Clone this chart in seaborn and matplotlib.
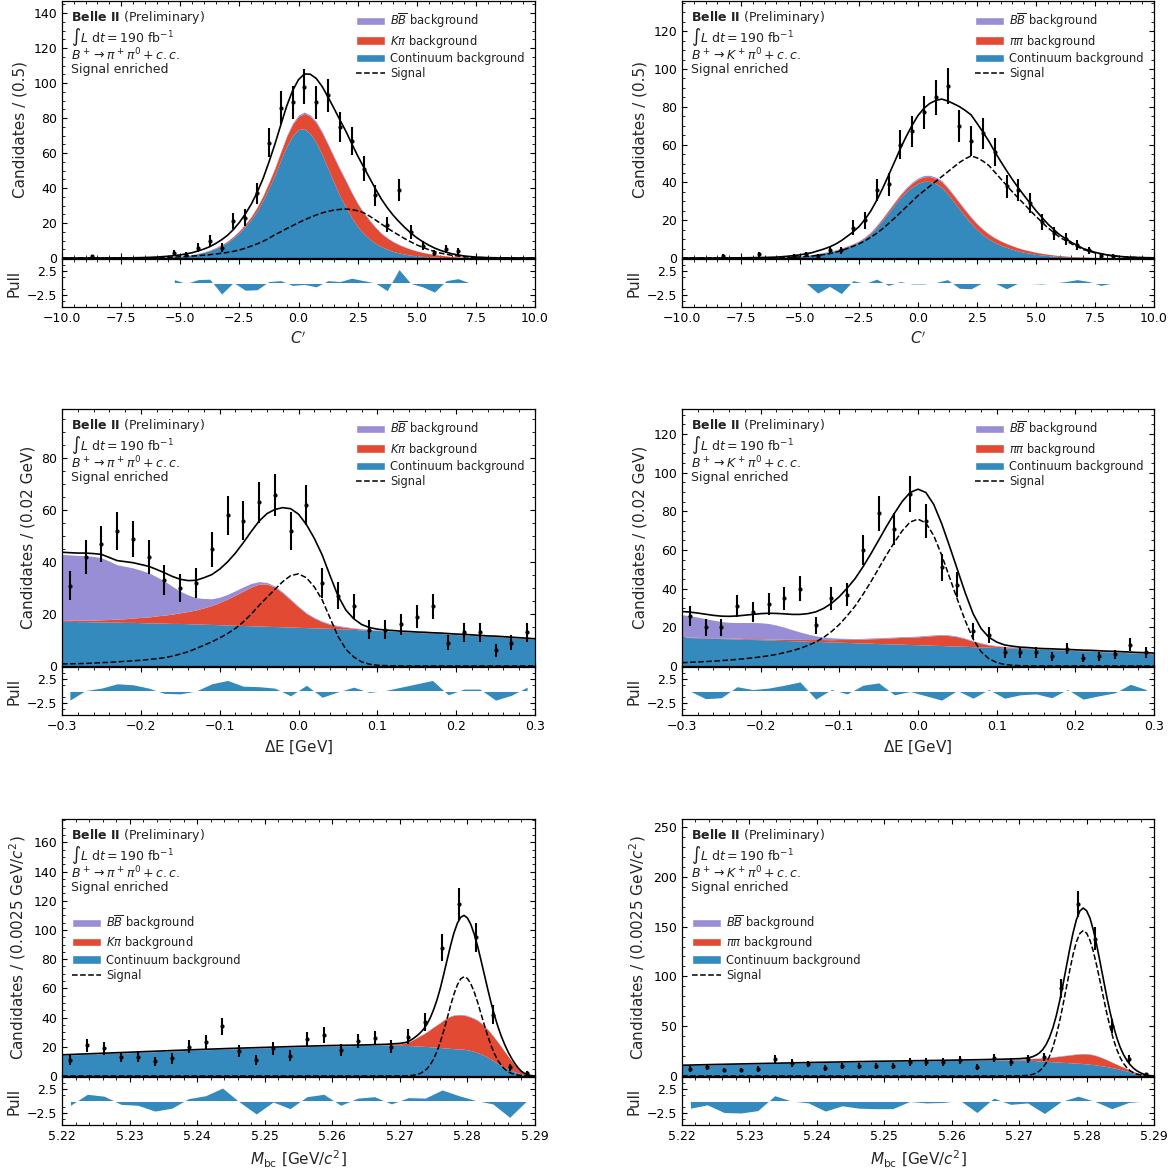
import numpy as np
import pandas as pd
import matplotlib
matplotlib.use("Agg")
import matplotlib.pyplot as plt
import seaborn as sns
from matplotlib.patches import Patch
from matplotlib.lines import Line2D
from matplotlib.ticker import MultipleLocator, AutoMinorLocator

# --- colours (stacked fit components) ---
BLUE = "#348ABD"    # continuum
RED = "#E24A33"     # peaking cross-feed
PURPLE = "#988ED5"  # BBbar

# ---------------------------------------------------------------
# fit-curve sampling grids
# ---------------------------------------------------------------
cprime_grid = np.concatenate([np.arange(-10, -4.4, 0.5), np.arange(-4, 6.01, 0.25),
                              np.arange(6.5, 10.01, 0.5)])
de_grid = np.round(np.arange(-0.30, 0.3001, 0.01), 2)
mbc_grid = np.concatenate([
    [5.220, 5.225, 5.230, 5.235, 5.240, 5.245, 5.250, 5.255, 5.260, 5.265, 5.268, 5.270],
    np.round(np.arange(5.2710, 5.29001, 0.0005), 4)])

# ---------------------------------------------------------------
# C' , B+ -> pi+ pi0
# ---------------------------------------------------------------
cp_pi_x = [-8.75, -5.25, -4.75, -4.25, -3.75, -3.25, -2.75, -2.25, -1.75, -1.25, -0.75, -0.25,
           0.25, 0.75, 1.25, 1.75, 2.25, 2.75, 3.25, 3.75, 4.25, 4.75, 5.25, 5.75, 6.25, 6.75]
cp_pi_n = [1, 3, 2, 6, 10, 6, 21, 23, 37, 66, 86, 89, 98, 89, 93, 75, 67, 51, 36, 19, 39, 15, 7, 3, 5, 4]
cp_pi_pull_x = [-5.25, -4.75, -4.25, -3.75, -3.25, -2.75, -2.25, -1.75, -1.25, -0.75, -0.25, 0.25, 0.75,
                1.25, 1.75, 2.25, 2.75, 3.25, 3.75, 4.25, 4.75, 5.25, 5.75, 6.25, 6.75, 7.25]
cp_pi_pull = [0.7, -0.1, 0.7, 0.8, -2.3, 0.1, -1.5, -1.4, 0.3, 0.5, -0.5, -0.3, -0.8,
              0.5, 0.3, 1.0, 0.5, 0.0, -1.6, 2.8, -0.1, -0.8, -1.9, 0.5, 0.9, 0.0]
cp_pi_cont = ([0, 0, 0, 0, 0, 0.02, 0.05, 0.15, 0.3, 0.6, 1.0, 1.8]
              + [3.2, 4.2, 5.5, 7.1, 9.0, 11.5, 14.5, 18.0, 22, 27, 33, 40, 47.5, 56, 64, 70, 73.5,
                 74, 71, 66, 59, 51, 43, 35.5, 29, 23, 18, 14, 11, 8.5, 6.5, 5.0, 3.8, 2.9, 2.2, 1.6,
                 1.2, 0.9, 0.65, 0.5, 0.35]
              + [0.15, 0.05, 0.02, 0, 0, 0, 0, 0])
cp_pi_peak = ([0, 0, 0, 0, 0, 0, 0, 0, 0.02, 0.03, 0.05, 0.1]
              + [0.2, 0.27, 0.35, 0.47, 0.6, 0.8, 1.0, 1.3, 1.6, 2.0, 2.5, 3.1, 3.7, 4.5, 5.5, 6.5,
                 7.5, 8.7, 10, 11.3, 12.5, 13.6, 14.5, 15.0, 15, 14.2, 13, 11.8, 10.5, 9.0, 7.5,
                 6.4, 5.5, 4.7, 4.0, 3.4, 2.8, 2.3, 1.9, 1.5, 1.2]
              + [0.7, 0.4, 0.2, 0.1, 0.05, 0, 0, 0])
cp_pi_bb = ([0] * 12
            + [0.1, 0.12, 0.15, 0.17, 0.2, 0.22, 0.25, 0.27, 0.3, 0.35, 0.4, 0.45, 0.5, 0.55, 0.6,
               0.7, 0.8, 0.8, 0.8, 0.8, 0.8, 0.75, 0.7, 0.65, 0.6, 0.55, 0.5, 0.45, 0.4, 0.35, 0.3,
               0.25, 0.2, 0.17, 0.15, 0.12, 0.1, 0.07, 0.05, 0.02, 0]
            + [0] * 8)
cp_pi_sig = ([0, 0, 0, 0, 0.02, 0.04, 0.07, 0.12, 0.2, 0.4, 0.7, 1.1]
             + [1.6, 1.9, 2.3, 2.7, 3.2, 3.8, 4.6, 5.6, 6.8, 8.1, 9.5, 11.3, 13.3, 15.0, 16.8, 18.5,
                20.2, 21.8, 23.3, 24.6, 25.8, 26.7, 27.4, 27.8, 28.0, 27.7, 27.0, 25.9, 24.0, 21.8,
                19.5, 17.2, 15.0, 13.0, 11.0, 9.2, 7.5, 6.1, 4.8, 3.7, 2.8]
             + [1.5, 0.7, 0.3, 0.12, 0.05, 0.02, 0, 0])

# ---------------------------------------------------------------
# C' , B+ -> K+ pi0
# ---------------------------------------------------------------
cp_k_x = [-8.25, -6.75, -5.25, -4.75, -4.25, -3.75, -3.25, -2.75, -2.25, -1.75, -1.25, -0.75, -0.25, 0.25,
          0.75, 1.25, 1.75, 2.25, 2.75, 3.25, 3.75, 4.25, 4.75, 5.25, 5.75, 6.25, 6.75, 7.25, 7.75, 8.25]
cp_k_n = [1, 2, 1, 2, 1, 4, 4, 16, 20, 36, 39, 60, 67, 77, 85, 91, 70, 62, 66, 56, 38, 36, 29, 19, 13,
          10, 7, 4, 1, 1]
cp_k_pull_x = cp_k_x[2:]
cp_k_pull = [0, 0, -2.1, -0.7, -2.2, 0.5, -0.1, 0.8, -0.5, 0.3, -0.2, -0.2, 0.1, 0.7, -1.1, -1.2, 0.1,
             0, -1.2, 0, -0.1, -0.2, 0, 0.3, 0.7, 0.3, -0.5, 0]
cp_k_cont = ([0, 0, 0, 0, 0.02, 0.05, 0.1, 0.2, 0.3, 0.6, 1.0, 1.7]
             + [2.7, 3.3, 4.0, 4.9, 6.0, 7.1, 8.5, 10.5, 13, 16.3, 20, 24, 28, 31.8, 35, 37.6, 39.5,
                40.6, 40.5, 39.4, 37.5, 34, 30, 26, 22, 18.3, 15, 12.3, 10, 8.2, 6.8, 5.6, 4.6, 3.7,
                3.0, 2.5, 2.0, 1.6, 1.3, 1.0, 0.8]
             + [0.5, 0.3, 0.2, 0.1, 0.05, 0, 0, 0])
cp_k_peak = ([0] * 8 + [0.02, 0.04, 0.07, 0.1]
             + [0.15, 0.17, 0.2, 0.25, 0.3, 0.35, 0.4, 0.5, 0.6, 0.75, 0.9, 1.05, 1.2, 1.45, 1.7,
                1.95, 2.2, 2.4, 2.6, 2.8, 3.0, 3.1, 3.2, 3.2, 3.2, 3.1, 3.0, 2.8, 2.6, 2.4, 2.2, 2.0,
                1.8, 1.6, 1.4, 1.2, 1.0, 0.85, 0.7, 0.6, 0.5]
             + [0.3, 0.2, 0.1, 0.05, 0.02, 0, 0, 0])
cp_k_bb = ([0] * 12
           + [0.05, 0.07, 0.1, 0.12, 0.15, 0.17, 0.2, 0.25, 0.3, 0.35, 0.4, 0.45, 0.5, 0.55, 0.6,
              0.65, 0.7, 0.7, 0.7, 0.65, 0.6, 0.55, 0.5, 0.45, 0.4, 0.35, 0.3, 0.27, 0.25, 0.22,
              0.2, 0.17, 0.15, 0.12, 0.1, 0.07, 0.05, 0.04, 0.02, 0.01, 0]
           + [0] * 8)
cp_k_sig = ([0, 0, 0, 0, 0.02, 0.04, 0.07, 0.1, 0.15, 0.3, 0.6, 1.0]
            + [1.8, 2.3, 3.0, 3.9, 5.0, 6.2, 7.5, 9.1, 11, 13.1, 15.5, 18.2, 21, 24, 27, 30, 33, 35.5,
               38, 40.5, 43, 45.5, 48, 50.5, 52.5, 54, 53, 51.3, 49, 45.5, 42, 38.5, 35, 31.7, 28.5,
               25.2, 22, 19, 16, 13.5, 11]
            + [7.5, 4.5, 2.7, 1.5, 0.8, 0.4, 0.2, 0.1])

# ---------------------------------------------------------------
# Delta E , B+ -> pi+ pi0
# ---------------------------------------------------------------
de_edges = np.linspace(-0.3, 0.3, 31)
de_pi_n = [31, 42, 47, 52, 49, 42, 33, 30, 32, 45, 58, 56, 63, 66, 52, 62, 32, 27, 23, 14, 14, 16, 19,
           23, 9, 13, 13, 6, 9, 13]
de_pi_pull = [-1.9, 0.1, 0.6, 1.5, 1.3, 0.6, -0.5, -0.6, 0.0, 1.5, 2.2, 1.0, 0.9, 0.6, -1.0, 1.2, -1.3,
              -0.2, 0.8, -0.3, 0.1, 0.8, 1.5, 2.2, -0.8, 0.4, 0.4, -1.9, -0.9, 0.8]
de_pi_cont = [17.2, 17.2, 17.1, 17.1, 17.0, 17.0, 16.9, 16.9, 16.8, 16.8, 16.7, 16.6, 16.6, 16.5, 16.4,
              16.4, 16.3, 16.2, 16.1, 16.0, 15.9, 15.8, 15.7, 15.6, 15.5, 15.4, 15.3, 15.2, 15.1, 15.0,
              14.9, 14.8, 14.7, 14.6, 14.5, 14.3, 14.2, 14.1, 13.9, 13.8, 13.7, 13.5, 13.4, 13.2, 13.1,
              12.9, 12.8, 12.6, 12.5, 12.3, 12.1, 12.0, 11.8, 11.6, 11.4, 11.3, 11.1, 10.9, 10.7, 10.5, 10.3]
de_pi_peak = [0.3, 0.4, 0.5, 0.6, 0.7, 0.8, 1.0, 1.2, 1.4, 1.7, 2.0, 2.3, 2.7, 3.1, 3.6, 4.1, 4.7, 5.4,
              6.3, 7.3, 8.6, 10.0, 11.6, 13.3, 14.9, 16.2, 16.3, 15.2, 13.0, 10.4, 7.8, 5.4, 3.7, 2.4,
              1.5, 1.0, 0.7, 0.4, 0.3, 0.2] + [0.1] * 21
de_pi_bb = [25.5, 25.2, 25.0, 24.8, 24.5, 23.9, 22.5, 20.9, 20.2, 19.3, 18.2, 17.0, 15.1, 13.1, 10.7,
            8.3, 6.4, 4.7, 3.6, 2.6, 2.0, 1.8, 1.7, 1.6, 1.4, 0.9, 0.6, 0.4, 0.4, 0.4, 0.3, 0.3, 0.3,
            0.3, 0.3, 0.3, 0.2, 0.2, 0.2, 0.1] + [0.1] * 21
de_pi_sig = [0.8, 0.85, 0.9, 1.0, 1.1, 1.3, 1.4, 1.6, 1.8, 2.0, 2.2, 2.5, 2.8, 3.2, 3.8, 4.6, 5.5, 6.7,
             8.0, 9.3, 10.8, 12.5, 14.5, 17.0, 20.0, 23.3, 26.5, 29.5, 32.5, 34.8, 35.5, 34.0, 30.5,
             25.5, 18.5, 11.5, 6.5, 3.5, 1.6, 0.7, 0.3, 0.15, 0.07, 0.03] + [0] * 17

# ---------------------------------------------------------------
# Delta E , B+ -> K+ pi0
# ---------------------------------------------------------------
de_k_n = [26, 20, 20, 31, 28, 32, 35, 40, 21, 35, 37, 60, 79, 71, 89, 75, 51, 42, 18, 16, 7, 7, 7, 5, 9,
          4, 5, 6, 11, 7]
de_k_pull = [0.0, -1.6, -1.4, 0.9, 0.3, 0.6, 1.2, 1.9, -1.7, 0.3, -0.6, 1.2, 1.7, -0.8, -0.1, -1.0,
             -1.9, 0.1, -1.5, 0.3, -1.5, -0.8, -0.6, -1.4, 0.3, -1.7, -1.0, -0.4, 1.4, 0.3]
de_k_cont = [14.8, 14.7, 14.6, 14.4, 14.3, 14.2, 14.1, 14.0, 13.8, 13.7, 13.6, 13.5, 13.3, 13.2, 13.1,
             13.0, 12.8, 12.7, 12.6, 12.4, 12.3, 12.2, 12.0, 11.9, 11.8, 11.6, 11.5, 11.4, 11.3, 11.1,
             11.0, 10.9, 10.7, 10.6, 10.4, 10.3, 10.2, 10.0, 9.9, 9.7, 9.6, 9.4, 9.3, 9.1, 9.0, 8.8,
             8.6, 8.5, 8.3, 8.2, 8.0, 7.8, 7.7, 7.5, 7.3, 7.2, 7.0, 6.8, 6.6, 6.5, 6.3]
de_k_peak = [0.2, 0.2, 0.2, 0.3, 0.3, 0.3, 0.3, 0.4, 0.4, 0.4, 0.5, 0.5, 0.6, 0.6, 0.7, 0.8, 0.9, 1.0,
             1.1, 1.2, 1.4, 1.6, 1.8, 2.0, 2.3, 2.6, 2.9, 3.2, 3.5, 3.8, 4.1, 4.5, 5.0, 5.3, 5.3, 4.8,
             3.9, 2.8, 1.8, 1.1, 0.7, 0.5, 0.4, 0.3, 0.3] + [0.2] * 16
de_k_bb = [11.5, 11.1, 10.5, 9.8, 9.1, 8.5, 8.2, 8.1, 8.3, 8.4, 8.3, 8.0, 7.3, 6.3, 5.0, 3.8, 2.8, 1.9,
           1.3, 1.0, 0.7, 0.5] + [0.4] * 14 + [0.3] * 5 + [0.2] * 20
de_k_sig = [1.7, 1.9, 2.1, 2.3, 2.5, 2.8, 3.1, 3.4, 3.8, 4.2, 4.7, 5.3, 6.0, 6.9, 7.9, 9.1, 10.6, 12.4,
            14.8, 17.8, 21.5, 26.0, 31.0, 37.0, 43.5, 50.5, 57.5, 64.0, 70.0, 74.5, 76.0, 74.0, 67.5,
            57.5, 46.0, 34.5, 23.5, 14.0, 7.5, 3.8, 1.8, 0.8, 0.35, 0.15, 0.05] + [0] * 16

# ---------------------------------------------------------------
# Mbc , B+ -> pi+ pi0
# ---------------------------------------------------------------
mbc_edges = np.linspace(5.22, 5.29, 29)
mbc_pi_n = [11, 21, 19, 13, 13, 10, 12, 20, 23, 34, 17, 11, 19, 14, 25, 28, 18, 24, 26, 20, 27, 37,
            88, 118, 95, 42, 6, 2]
mbc_pi_pull = [-0.9, 1.4, 1.0, -0.7, -0.9, -2.1, -1.5, 0.5, 1.1, 2.7, -0.2, -2.7, -0.2, -1.6, 0.9, 1.4,
               -0.9, 0.6, 0.9, -0.6, 0.7, 0.6, 2.3, 1.1, 0.1, -0.6, -3.4, 0.0]
mbc_pi_cont = [14.2, 15.1, 16.0, 16.9, 17.8, 18.6, 19.3, 20.0, 20.6, 21.0, 21.1, 21.0,
               20.9, 20.8, 20.7, 20.6, 20.5, 20.3, 20.2, 20.0, 19.9, 19.7, 19.5, 19.3, 19.1, 18.9,
               18.7, 18.5, 18.4, 18.3, 17.9, 17.4, 16.8, 16.0, 15.1, 14.0, 12.8, 11.4, 9.9, 8.5, 7.2,
               6.0, 4.8, 3.8, 2.9, 2.1, 1.4, 0.8, 0.4, 0.1, 0.0]
mbc_pi_peak = [0] * 10 + [0.3, 1.0,
                          1.8, 2.9, 4.2, 5.6, 7.0, 8.4, 10.0, 11.8, 13.6, 15.3, 17.0, 19.0, 20.6, 21.9,
                          22.8, 23.3, 23.4, 23.3, 23.1, 22.8, 22.4, 22.0, 21.2, 20.2, 19.0, 17.7, 16.3,
                          14.6, 12.8, 10.8, 8.8, 6.7, 4.6, 2.8, 1.5, 0.7, 0.3, 0.1, 0]
mbc_pi_bb = [0.3] * 22 + [0.4] * 12 + [0.3, 0.3, 0.3, 0.2, 0.2, 0.2, 0.1, 0.1, 0.1, 0.1, 0.05, 0.05,
                                       0, 0, 0, 0, 0]
mbc_pi_sig = [0] * 10 + [0.02, 0.05,
                         0.13, 0.26, 0.52, 0.97, 1.73, 3.0, 4.9, 7.7, 11.7, 16.9, 23.4, 31.1, 39.5, 48.1,
                         56.0, 62.3, 66.5, 68.0, 66.8, 63.2, 57.6, 50.6, 42.8, 35.0, 27.5, 20.8, 15.2,
                         10.7, 7.3, 4.8, 3.0, 1.8, 1.1, 0.6, 0.3, 0.15, 0.07, 0.03, 0]

# ---------------------------------------------------------------
# Mbc , B+ -> K+ pi0
# ---------------------------------------------------------------
mbc_k_n = [7, 9, 6, 6, 7, 17, 13, 12, 8, 10, 10, 10, 10, 14, 14, 14, 16, 9, 18, 14, 17, 19, 88, 173,
           138, 50, 17, 2]
mbc_k_pull = [-1.5, -0.8, -2.4, -2.5, -2.0, 1.1, 0.0, -0.4, -2.1, -1.0, -1.5, -1.6, -1.6, -0.1, -0.4,
              -0.3, 0.1, -2.4, 0.6, -0.7, -0.4, -2.6, -0.1, 1.0, -0.1, -1.6, -0.3, 0.0]
mbc_k_cont = [10.5, 11.3, 12.0, 12.7, 13.4, 14.0, 14.6, 15.1, 15.6, 16.0, 16.1, 16.1,
              16.0, 15.8, 15.6, 15.4, 15.1, 14.9, 14.7, 14.5, 14.3, 14.1, 13.9, 13.7, 13.5, 13.3,
              13.1, 12.9, 12.7, 12.4, 12.1, 11.8, 11.4, 11.0, 10.5, 10.0, 9.4, 8.8, 8.1, 7.4, 6.6,
              5.8, 4.9, 4.0, 3.1, 2.3, 1.6, 1.0, 0.5, 0.2, 0]
mbc_k_peak = [0] * 9 + [0.2, 0.5, 0.8,
                        1.2, 1.5, 1.9, 2.3, 2.7, 3.1, 3.6, 4.1, 4.7, 5.3, 5.9, 6.5, 7.1, 7.7, 8.3,
                        8.9, 9.4, 9.8, 10.0, 10.0, 9.7, 9.2, 8.5, 7.7, 6.8, 5.9, 5.0, 4.2, 3.5, 2.9,
                        2.3, 1.8, 1.3, 0.9, 0.6, 0.3, 0.1, 0, 0]
mbc_k_bb = [0.3] * 22 + [0.4] * 12 + [0.3, 0.3, 0.3, 0.2, 0.2, 0.2, 0.1, 0.1, 0.1, 0.1, 0.05, 0.05,
                                      0, 0, 0, 0, 0]
mbc_k_sig = [0] * 10 + [0.05, 0.2,
                        0.45, 0.87, 1.6, 2.9, 5.0, 8.2, 13.0, 19.8, 28.9, 40.6, 54.8, 71.1, 88.6,
                        106.0, 122.0, 134.8, 143.1, 146.0, 143.5, 136.4, 125.1, 111.0, 95.1, 78.9,
                        62.9, 48.8, 36.4, 26.3, 18.3, 12.4, 8.1, 5.1, 3.1, 1.8, 1.0, 0.5, 0.2, 0.08, 0]

de_centres = 0.5 * (de_edges[1:] + de_edges[:-1])
mbc_centres = 0.5 * (mbc_edges[1:] + mbc_edges[:-1])

# ---------------------------------------------------------------
# style
# ---------------------------------------------------------------
sns.set_style("ticks", {"xtick.direction": "in", "ytick.direction": "in"})
plt.rcParams.update({
    "font.family": ["DejaVu Sans"],
    "xtick.top": True, "ytick.right": True,
    "xtick.minor.visible": True, "ytick.minor.visible": True,
    "xtick.major.size": 3.5, "ytick.major.size": 3.5,
    "xtick.minor.size": 2.0, "ytick.minor.size": 2.0,
    "xtick.labelsize": 9, "ytick.labelsize": 9,
    "axes.labelsize": 11, "axes.edgecolor": "black", "axes.linewidth": 0.9,
    "xtick.color": "black", "ytick.color": "black", "text.color": "#222222",
})

W, H = 1174, 1168
fig = plt.figure(figsize=(W / 100, H / 100), dpi=100)


def rect(x0, top, w, h):
    return [x0 / W, 1 - (top + h) / H, w / W, h / H]


def panel(col, row, grid, cont, peak, bb, sig, xc, n, px, pull, xlim, ylim, ystep, xstep,
          xlabel, ylabel, decay, peak_name, legend_loc):
    x0, w = [(62, 473), (682, 472)][col]
    top = [1, 409, 819][row]
    ax = fig.add_axes(rect(x0, top, w, 257))
    axp = fig.add_axes(rect(x0, top + 258, w, 48), sharex=ax)

    cont = np.asarray(cont, float)
    peak = np.asarray(peak, float)
    bb = np.asarray(bb, float)
    sig = np.asarray(sig, float)
    l1 = cont + peak
    l2 = l1 + bb
    ax.fill_between(grid, 0, cont, color=BLUE, lw=0)
    ax.fill_between(grid, cont, l1, color=RED, lw=0)
    ax.fill_between(grid, l1, l2, color=PURPLE, lw=0)

    curves = pd.DataFrame({"x": grid, "total": l2 + sig, "signal": sig})
    sns.lineplot(data=curves, x="x", y="signal", ax=ax, color="k", lw=1.1, ls="--",
                 estimator=None, sort=False)
    sns.lineplot(data=curves, x="x", y="total", ax=ax, color="k", lw=1.2,
                 estimator=None, sort=False)

    n = np.asarray(n, float)
    ax.errorbar(xc, n, yerr=np.sqrt(n), fmt="o", ms=2, color="k", elinewidth=1.5,
                capsize=0, zorder=5)

    ax.set_xlim(*xlim)
    ax.set_ylim(*ylim)
    ax.yaxis.set_major_locator(MultipleLocator(ystep))
    ax.xaxis.set_major_locator(MultipleLocator(xstep))
    ax.xaxis.set_minor_locator(AutoMinorLocator(5))
    ax.tick_params(labelbottom=False)
    ax.set_xlabel("")
    ax.set_ylabel(ylabel)

    txt = ["$\\bf{Belle\\ II}$ (Preliminary)",
           "$\\int L\\ \\mathrm{d}t = 190\\ \\mathrm{fb}^{-1}$",
           decay, "Signal enriched"]
    for t, d in zip(txt, [17, 36, 54, 69]):
        ax.text(0.02, 1 - d / 257, t, transform=ax.transAxes, va="center", ha="left",
                fontsize=9, color="#222222")

    handles = [Patch(facecolor=PURPLE, label="$B\\overline{B}$ background"),
               Patch(facecolor=RED, label=peak_name),
               Patch(facecolor=BLUE, label="Continuum background"),
               Line2D([], [], color="k", ls="--", lw=1.1, label="Signal")]
    ax.legend(handles=handles, loc=legend_loc, frameon=False, fontsize=8.3,
              handlelength=2.5, handleheight=0.75, handletextpad=0.45, labelspacing=0.2)

    axp.fill_between(px, 0, pull, color=BLUE, lw=0)
    axp.axhline(0, color="white", lw=0.7)
    axp.set_ylim(-5, 5)
    axp.set_yticks([-2.5, 2.5])
    axp.yaxis.set_minor_locator(MultipleLocator(1.25))
    axp.set_ylabel("Pull")
    axp.set_xlabel(xlabel)
    axp.set_xlim(*xlim)
    return ax, axp


panel(0, 0, cprime_grid, cp_pi_cont, cp_pi_peak, cp_pi_bb, cp_pi_sig, cp_pi_x, cp_pi_n,
      cp_pi_pull_x, cp_pi_pull, (-10, 10), (0, 147), 20, 2.5, "$C'$", "Candidates / (0.5)",
      "$B^+ \\to \\pi^+\\pi^0 + c.c.$", "$K\\pi$ background", "upper right")
panel(1, 0, cprime_grid, cp_k_cont, cp_k_peak, cp_k_bb, cp_k_sig, cp_k_x, cp_k_n,
      cp_k_pull_x, cp_k_pull, (-10, 10), (0, 136), 20, 2.5, "$C'$", "Candidates / (0.5)",
      "$B^+ \\to K^+\\pi^0 + c.c.$", "$\\pi\\pi$ background", "upper right")
panel(0, 1, de_grid, de_pi_cont, de_pi_peak, de_pi_bb, de_pi_sig, de_centres, de_pi_n,
      de_centres, de_pi_pull, (-0.3, 0.3), (0, 99), 20, 0.1, "$\\Delta$E [GeV]",
      "Candidates / (0.02 GeV)", "$B^+ \\to \\pi^+\\pi^0 + c.c.$", "$K\\pi$ background",
      "upper right")
panel(1, 1, de_grid, de_k_cont, de_k_peak, de_k_bb, de_k_sig, de_centres, de_k_n,
      de_centres, de_k_pull, (-0.3, 0.3), (0, 133), 20, 0.1, "$\\Delta$E [GeV]",
      "Candidates / (0.02 GeV)", "$B^+ \\to K^+\\pi^0 + c.c.$", "$\\pi\\pi$ background",
      "upper right")
panel(0, 2, mbc_grid, mbc_pi_cont, mbc_pi_peak, mbc_pi_bb, mbc_pi_sig, mbc_centres, mbc_pi_n,
      mbc_centres, mbc_pi_pull, (5.22, 5.29), (0, 176), 20, 0.01, "$M_{\\rm bc}$ [GeV/$c^2$]",
      "Candidates / (0.0025 GeV/$c^2$)", "$B^+ \\to \\pi^+\\pi^0 + c.c.$", "$K\\pi$ background",
      "center left")
panel(1, 2, mbc_grid, mbc_k_cont, mbc_k_peak, mbc_k_bb, mbc_k_sig, mbc_centres, mbc_k_n,
      mbc_centres, mbc_k_pull, (5.22, 5.29), (0, 258), 50, 0.01, "$M_{\\rm bc}$ [GeV/$c^2$]",
      "Candidates / (0.0025 GeV/$c^2$)", "$B^+ \\to K^+\\pi^0 + c.c.$", "$\\pi\\pi$ background",
      "center left")

fig.savefig("out.png", dpi=100)
